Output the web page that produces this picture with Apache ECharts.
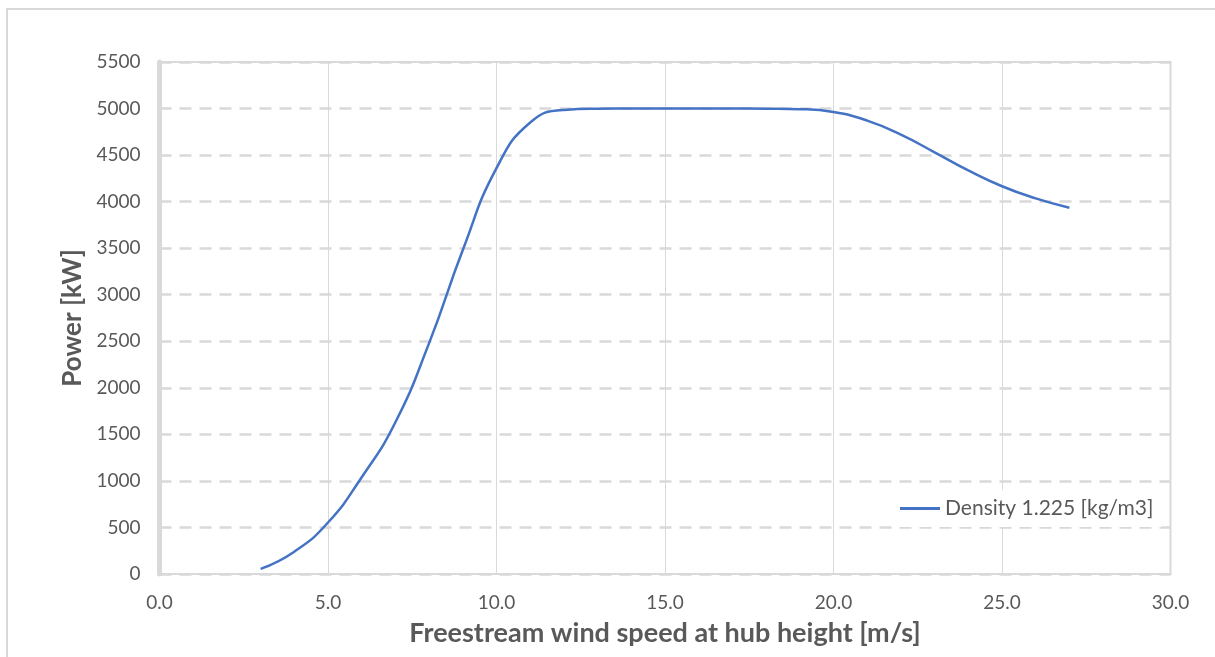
<!DOCTYPE html>
<html>
<head>
<meta charset="utf-8">
<script src="https://cdn.jsdelivr.net/npm/echarts@6/dist/echarts.min.js"></script>
<style>
html,body{margin:0;padding:0;background:#fff;}
#c{width:1215px;height:657px;}
</style>
</head>
<body>
<div id="c"></div>
<script>
const windSpeed = [3, 4, 5, 6, 7, 8, 9, 10, 11, 12, 13, 14, 15, 16, 17, 18, 19, 20, 21, 22, 23, 24, 25, 26, 27];
const power = [55, 240, 553, 1040, 1630, 2480, 3480, 4360, 4850, 4985, 4998, 5000, 5000, 5000, 5000, 4998, 4993, 4962, 4870, 4720, 4530, 4335, 4165, 4035, 3935];
const seriesName = 'Density 1.225 [kg/m3]';
const xTitle = 'Freestream wind speed at hub height [m/s]';
const yTitle = 'Power [kW]';

const chart = echarts.init(document.getElementById('c'));
const txt = '#595959';
const grid = '#d9d9d9';
chart.setOption({
  animation: false,
  textStyle: {fontFamily: 'Lato'},
  graphic: [{
    type: 'rect', silent: true, z: -10,
    shape: {x: 7, y: 9, width: 1240, height: 700},
    style: {fill: 'none', stroke: grid, lineWidth: 2}
  }],
  grid: {
    left: 159.5, right: 44.5, top: 62, bottom: 83,
    show: true, borderColor: grid, borderWidth: 2, backgroundColor: 'transparent'
  },
  legend: {
    data: [seriesName],
    left: 892, top: 490,
    icon: 'rect', itemWidth: 40, itemHeight: 3, itemGap: 6,
    backgroundColor: '#fff', padding: [8, 8, 8, 8],
    textStyle: {color: txt, fontSize: 21, fontFamily: 'Lato'}
  },
  xAxis: {
    type: 'value', min: 0, max: 30, interval: 5,
    name: xTitle, nameLocation: 'middle', nameGap: 46,
    nameTextStyle: {color: txt, fontSize: 27, fontWeight: 'bold', fontFamily: 'Lato'},
    axisLine: {show: true, lineStyle: {color: grid, width: 2}},
    axisTick: {show: false},
    axisLabel: {color: txt, fontSize: 19, margin: 19, formatter: v => v.toFixed(1)},
    splitLine: {show: true, lineStyle: {color: grid, width: 1, type: 'solid'}}
  },
  yAxis: {
    type: 'value', min: 0, max: 5500, interval: 500,
    name: yTitle, nameLocation: 'middle', nameGap: 67, nameRotate: 90,
    nameTextStyle: {color: txt, fontSize: 26, fontWeight: 'bold', fontFamily: 'Lato'},
    axisLine: {show: true, lineStyle: {color: grid, width: 5}},
    axisTick: {show: false},
    axisLabel: {color: txt, fontSize: 19, margin: 19, formatter: v => String(v)},
    splitLine: {show: true, lineStyle: {color: grid, width: 2.5, type: [12, 8]}}
  },
  series: [{
    name: seriesName, type: 'line',
    data: windSpeed.map((w, i) => [w, power[i]]),
    showSymbol: false, symbol: 'none',
    smooth: 0.5,
    lineStyle: {color: '#4472C4', width: 2.5},
    itemStyle: {color: '#4472C4'}
  }]
});
</script>
</body>
</html>
